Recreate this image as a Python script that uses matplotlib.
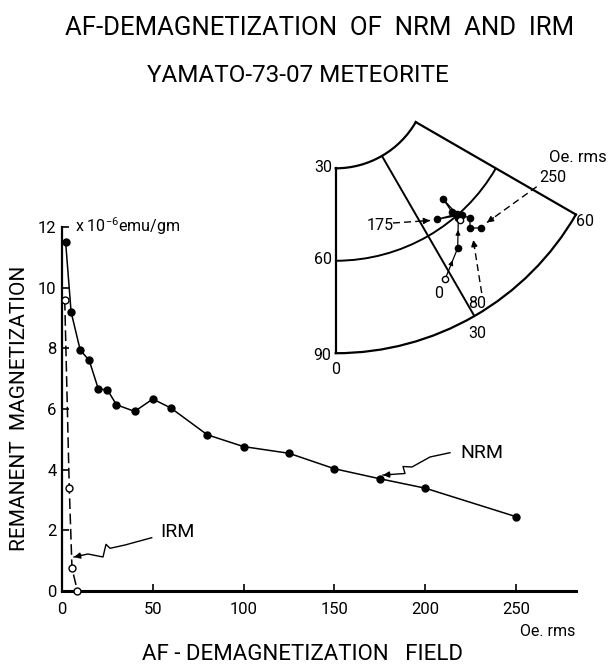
import matplotlib
matplotlib.use('Agg')
import matplotlib.pyplot as plt
import matplotlib.transforms as mtransforms
from matplotlib.lines import Line2D
from matplotlib.patches import FancyArrowPatch
import numpy as np

plt.rcParams['font.family'] = ['Roboto', 'DejaVu Sans']
plt.rcParams['mathtext.fontset'] = 'custom'
plt.rcParams['mathtext.rm'] = 'Roboto'
plt.rcParams['mathtext.it'] = 'Roboto'

W, H = 611, 671

# NRM intensity (filled dots), x 10^-6 emu/gm
nrm_field = [2, 5, 10, 15, 20, 25, 30, 40, 50, 60, 80, 100, 125, 150, 175, 200, 250]
nrm_value = [11.5, 9.2, 7.95, 7.6, 6.66, 6.63, 6.14, 5.92, 6.33, 6.03, 5.15, 4.76, 4.54,
             4.03, 3.70, 3.39, 2.45]

# IRM intensity (open circles)
irm_field = [1.5, 4, 5.5, 8.5]
irm_value = [9.6, 3.4, 0.75, 0.0]

# NRM direction path for the inset net (declination, inclination, degrees)
dir_decl = [28.4, 35.3, 40.8, 40.5, 41.1, 41.2, 35.3, 42.2, 43.3, 41.4, 43.7]
dir_incl = [74.8, 68.5, 60.9, 58.0, 53.1, 59.6, 57.0, 60.9, 63.5, 65.9, 68.2]
open_decl = [28.4, 40.8]
open_incl = [74.8, 61.8]

fig = plt.figure(figsize=(W / 100, H / 100), dpi=100)
fig.patch.set_facecolor('white')

# pixel coords measured from the top-left corner
pix = mtransforms.Affine2D().scale(1, -1).translate(0, H) + \
    mtransforms.Affine2D().scale(1 / W, 1 / H) + fig.transFigure


def ptext(x, y, s, size=12, **kw):
    fig.text(x, y, s, transform=pix, fontsize=size, va='center', **kw)


def squiggle(pts, dashed=False):
    xs = [p[0] for p in pts]
    ys = [p[1] for p in pts]
    ls = (0, (5, 3)) if dashed else '-'
    fig.add_artist(Line2D(xs, ys, transform=pix, color='black', lw=1.0, ls=ls, zorder=10))
    # short solid head at the end of the path
    (x0, y0), (x1, y1) = pts[-2], pts[-1]
    d = np.hypot(x1 - x0, y1 - y0)
    f = min(1.0, 8.0 / d)
    start = (x1 - f * (x1 - x0), y1 - f * (y1 - y0))
    fig.add_artist(FancyArrowPatch(start, (x1, y1), transform=pix, arrowstyle='-|>',
                                   mutation_scale=9, color='black', lw=1.0,
                                   shrinkA=0, shrinkB=0, zorder=10))


# main plot
ax = fig.add_axes([62 / W, 1 - 591 / H, (576 - 62) / W, (591 - 227) / H])
ax.set_xlim(0, 283)
ax.set_ylim(0, 12)
ax.plot(nrm_field, nrm_value, color='black', lw=1.1, marker='o', ms=5,
        mfc='black', mec='black', clip_on=False, zorder=3)
ax.plot(irm_field, irm_value, color='black', lw=1.1, ls=(0, (7, 3)), marker='o', ms=5,
        mfc='white', mec='black', mew=1.0, clip_on=False, zorder=3)

ax.spines['top'].set_visible(False)
ax.spines['right'].set_visible(False)
ax.spines['left'].set_linewidth(1.6)
ax.spines['bottom'].set_linewidth(2.2)
ax.set_xticks([0, 50, 100, 150, 200, 250])
ax.set_yticks([0, 2, 4, 6, 8, 10, 12])
ax.tick_params(direction='in', length=5, width=1.2, labelsize=12, pad=4)
ax.tick_params(axis='x', pad=8)
ax.patch.set_alpha(0)

ax.text(7, 12.02, r'x 10$^{-6}$emu/gm', fontsize=11.5, ha='left', va='center')

ptext(20, 408, 'REMANENT  MAGNETIZATION', size=15, rotation=90, ha='center')
ptext(303, 655, 'AF - DEMAGNETIZATION   FIELD', size=16, ha='center')
ptext(575, 632, 'Oe. rms', size=11.5, ha='right')
ptext(320, 28, 'AF-DEMAGNETIZATION  OF  NRM  AND  IRM', size=18.5, ha='center')
ptext(298, 75, 'YAMATO-73-07 METEORITE', size=17.5, ha='center')

ptext(160, 532, 'IRM', size=14, ha='left')
squiggle([(151.7, 537.7), (125, 545), (110, 548.3), (106, 544.3), (103, 557),
          (88, 554), (74, 557)])
ptext(460, 453, 'NRM', size=14, ha='left')
squiggle([(450, 452.7), (430, 457), (412, 467), (403, 466.5), (405, 473.5),
          (383, 475)])

# inset: declination / inclination sector
S = 240.2
axp = fig.add_axes([335.7 / W, 1 - 357.75 / H, S / W, S / H], projection='polar')
axp.set_theta_zero_location('S')
axp.set_theta_direction(1)
axp.set_thetamin(0)
axp.set_thetamax(60)
axp.set_rlim(30, 90)
axp.set_rorigin(0)
axp.set_thetagrids([30], labels=[''])
axp.set_rgrids([60], labels=[''])
axp.grid(True, color='black', lw=1.4, ls='-')
axp.tick_params(length=0)
for sp in axp.spines.values():
    sp.set_linewidth(1.6)

th = np.radians(dir_decl)
axp.plot(th, dir_incl, color='black', lw=0.9, zorder=3)
axp.plot(th[1:], dir_incl[1:], 'o', color='black', ms=4.5, zorder=4)
axp.plot(np.radians(open_decl), open_incl, 'o', mfc='white', mec='black', ms=4.5,
         mew=1.0, zorder=5)

# direction arrows on the first two steps
xc = np.array(dir_incl) * np.sin(th)
yc = -np.array(dir_incl) * np.cos(th)
for i in range(2):
    pts = []
    for f in (0.45, 0.6):
        x = xc[i] + f * (xc[i + 1] - xc[i])
        y = yc[i] + f * (yc[i + 1] - yc[i])
        pts.append((np.arctan2(x, -y), np.hypot(x, y)))
    axp.annotate('', xy=pts[1], xytext=pts[0],
                 arrowprops=dict(arrowstyle='-|>', color='black', lw=0.8,
                                 mutation_scale=7, shrinkA=0, shrinkB=0))

ptext(332, 168, '30', size=11.5, ha='right')
ptext(332, 260, '60', size=11.5, ha='right')
ptext(331, 355, '90', size=11.5, ha='right')
ptext(336, 370, '0', size=11.5, ha='center')
ptext(477, 334, '30', size=11.5, ha='center')
ptext(576, 222, '60', size=11.5, ha='left')

ptext(549, 157, 'Oe. rms', size=12, ha='left')
ptext(380, 226, '175', size=11.5, ha='center')
squiggle([(393, 223), (430, 220.5)], dashed=True)
ptext(439, 293, '0', size=11.5, ha='center')
ptext(477, 304, '80', size=11.5, ha='center')
squiggle([(481.7, 293), (473.3, 240)], dashed=True)
ptext(553, 177, '250', size=11.5, ha='center')
squiggle([(536.7, 186.7), (487, 222.5)], dashed=True)

fig.savefig('out.png', dpi=100)
